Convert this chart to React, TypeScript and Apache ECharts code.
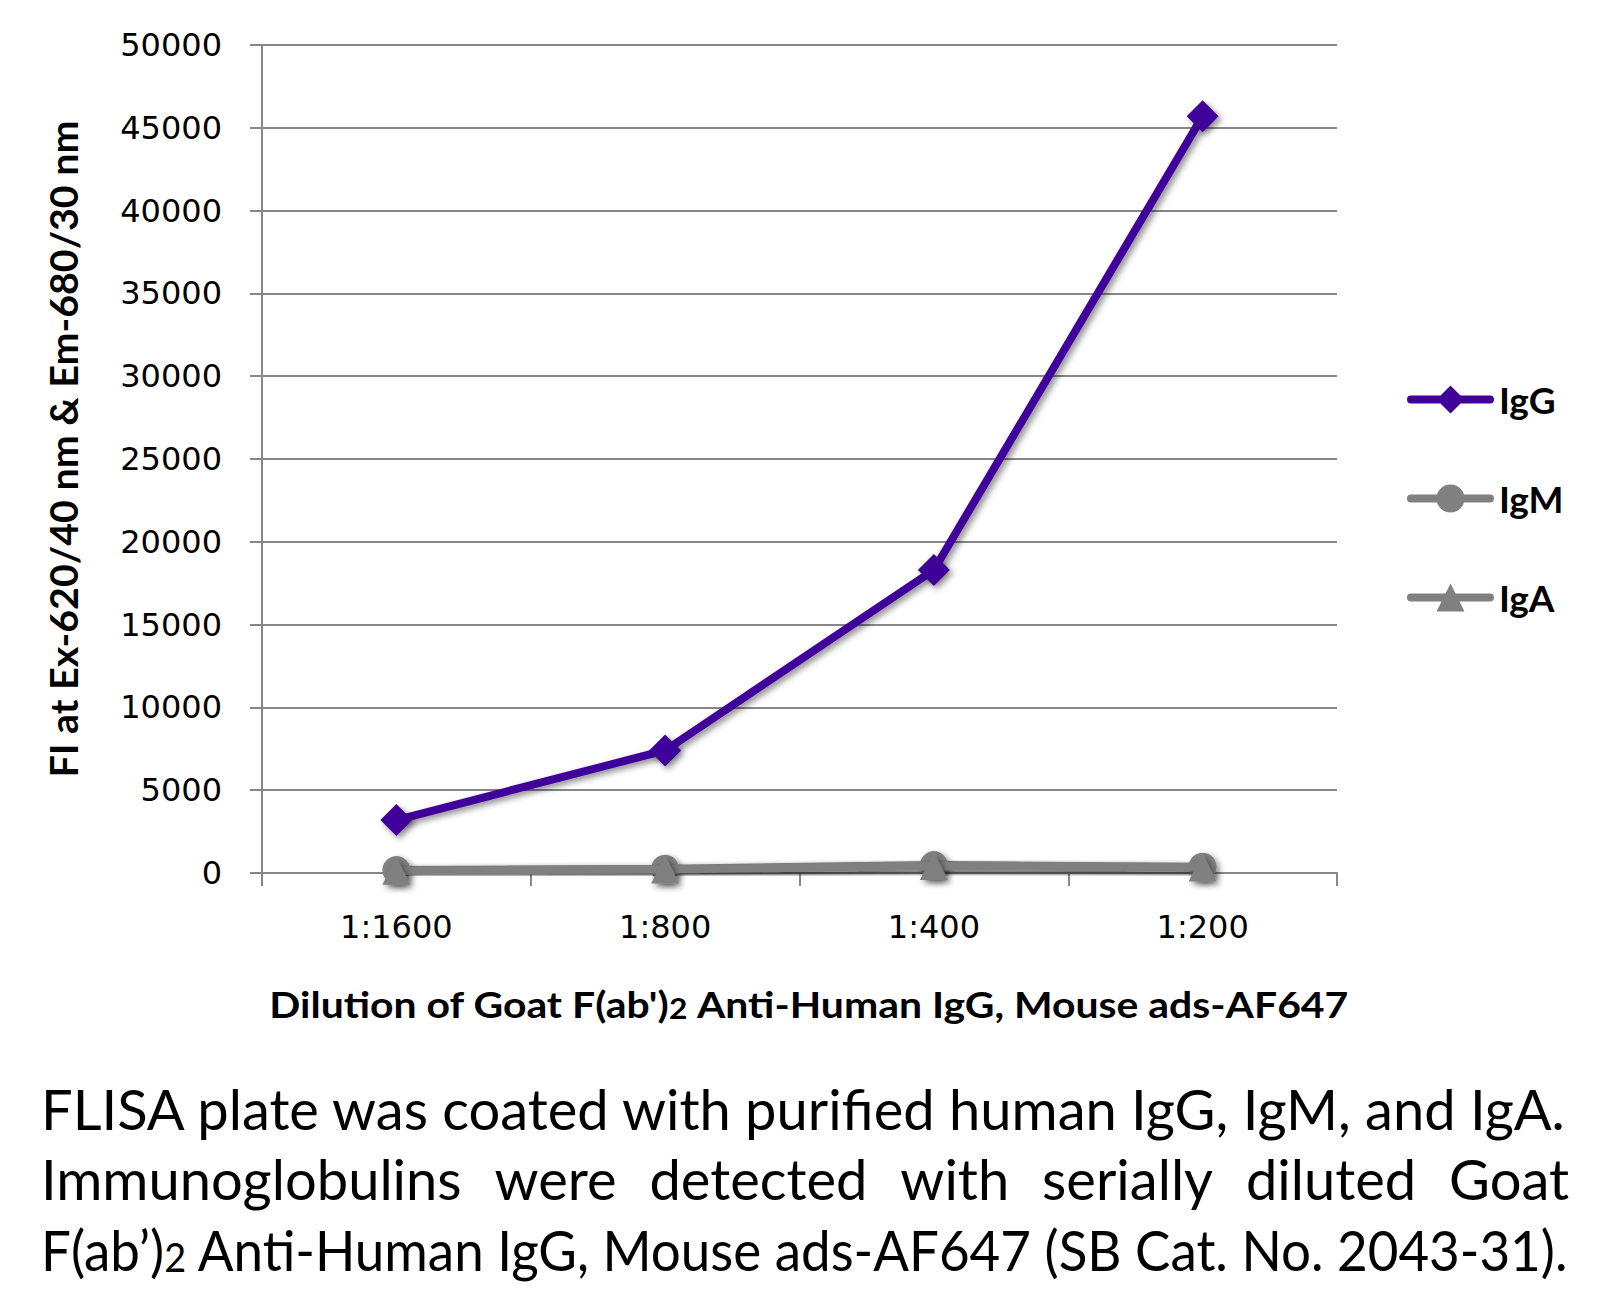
import React, { useEffect, useRef } from "react";
import * as echarts from "echarts";

const categories = ["1:1600", "1:800", "1:400", "1:200"];
const igG = [3200, 7400, 18300, 45700];
const igM = [180, 260, 480, 380];
const igA = [130, 210, 430, 330];
const yMin = 0;
const yMax = 50000;
const yInterval = 5000;
const seriesNames = ["IgG", "IgM", "IgA"];
const yAxisTitle = "FI at Ex-620/40 nm & Em-680/30 nm";
const xAxisTitleParts = ["Dilution of Goat F(ab')", "2", " Anti-Human IgG, Mouse ads-AF647"];
const captionLine1 = "FLISA plate was coated with purified human IgG, IgM, and IgA.";
const captionLine2Words = ["Immunoglobulins", "were", "detected", "with", "serially", "diluted", "Goat"];
const captionLine3Parts = ["F(ab\u2019)", "2", " Anti-Human IgG, Mouse ads-AF647 (SB Cat. No. 2043-31)."];

const PURPLE = "#41009A";
const GRAY = "#808080";
const GRID = "#878787";
const TICK_FONT = "DejaVu Sans";
const BOLD_FONT = "Lato";
const CAP_FONT = "Lato";

// legend icons: a round-capped line with the series marker in the middle
const BAR = "M4,13 L83,13 A4,4 0 0 1 83,21 L4,21 A4,4 0 0 1 4,13 Z ";
const ICON_DIAMOND = "path://" + BAR + "M43.5,3 L57.5,17 L43.5,31 L29.5,17 Z";
const ICON_CIRCLE = "path://" + BAR + "M43.5,3 A14,14 0 1 1 43.5,31 A14,14 0 1 1 43.5,3 Z";
const ICON_TRIANGLE = "path://" + BAR + "M43.5,3 L57.5,31 L29.5,31 Z";

let ctx: CanvasRenderingContext2D | null = null;
function measure(text: string, font: string): number {
  if (!ctx) ctx = document.createElement("canvas").getContext("2d");
  ctx!.font = font;
  return ctx!.measureText(text).width;
}

export default function App() {
  const ref = useRef<HTMLDivElement>(null);
  useEffect(() => {
    document.body.style.margin = "0";
    const chart = echarts.init(ref.current!, null, { renderer: "svg" });

    const yTitleSize = 38;
    const yTitleFont = `bold ${yTitleSize}px ${BOLD_FONT}`;
    const yTitleScale = 657 / measure(yAxisTitle, yTitleFont);

    const xTitleSize = 36;
    const xSubSize = 28;
    const xw =
      measure(xAxisTitleParts[0], `bold ${xTitleSize}px ${BOLD_FONT}`) +
      measure(xAxisTitleParts[1], `bold ${xSubSize}px ${BOLD_FONT}`) +
      measure(xAxisTitleParts[2], `bold ${xTitleSize}px ${BOLD_FONT}`);
    const xTitleScale = 1080 / xw;

    const capSize = 56;
    const capSub = 40;
    const capFont = `${capSize}px ${CAP_FONT}`;
    const capLeft = 41;
    const capWidth = 1528;
    const s1 = capWidth / measure(captionLine1, capFont);
    const w3 =
      measure(captionLine3Parts[0], capFont) +
      measure(captionLine3Parts[1], `${capSub}px ${CAP_FONT}`) +
      measure(captionLine3Parts[2], capFont);
    const s3 = capWidth / w3;
    const wordWidths = captionLine2Words.map((w) => measure(w, capFont) * s1);
    const totalWords = wordWidths.reduce((a, b) => a + b, 0);
    const gap = (capWidth - totalWords) / (captionLine2Words.length - 1);
    const line2Elems: any[] = [];
    let cx = capLeft;
    captionLine2Words.forEach((w, i) => {
      line2Elems.push({
        type: "text",
        x: cx,
        y: 1179,
        scaleX: s1,
        style: {
          text: w,
          font: capFont,
          fill: "#000",
          textAlign: "left",
          textVerticalAlign: "middle",
        },
      });
      cx += wordWidths[i] + gap;
    });

    const shadow = {
      shadowColor: "rgba(0,0,0,0.45)",
      shadowBlur: 6,
      shadowOffsetX: 3,
      shadowOffsetY: 3,
    };

    chart.setOption({
      animation: false,
      backgroundColor: "#fff",
      grid: { left: 262, right: 268, top: 45, bottom: 433, containLabel: false },
      legend: {
        orient: "vertical",
        left: 1402,
        top: 376,
        itemWidth: 87,
        itemHeight: 34,
        itemGap: 62,
        data: [
          { name: seriesNames[0], icon: ICON_DIAMOND },
          { name: seriesNames[1], icon: ICON_CIRCLE },
          { name: seriesNames[2], icon: ICON_TRIANGLE },
        ],
        itemStyle: { shadowBlur: 0, shadowOffsetX: 0, shadowOffsetY: 0 },
        textStyle: { fontFamily: BOLD_FONT, fontWeight: "bold", fontSize: 37, color: "#000" },
      },
      xAxis: {
        type: "category",
        data: categories,
        axisLine: { lineStyle: { color: GRID, width: 2 } },
        axisTick: { show: true, length: 13, lineStyle: { color: GRID, width: 2 } },
        axisLabel: { fontFamily: TICK_FONT, fontSize: 32, color: "#000", margin: 38 },
      },
      yAxis: {
        type: "value",
        min: yMin,
        max: yMax,
        interval: yInterval,
        axisLine: { show: true, lineStyle: { color: GRID, width: 2 } },
        axisTick: { show: true, length: 12, lineStyle: { color: GRID, width: 2 } },
        axisLabel: {
          fontFamily: TICK_FONT,
          fontSize: 32,
          color: "#000",
          margin: 40,
          formatter: (v: number) => String(v),
        },
        splitLine: { lineStyle: { color: GRID, width: 2 } },
      },
      series: [
        {
          name: seriesNames[0],
          type: "line",
          data: igG,
          symbol: "diamond",
          symbolSize: 32,
          color: PURPLE,
          lineStyle: { width: 8, color: PURPLE, ...shadow },
          itemStyle: { color: PURPLE, ...shadow },
          z: 4,
        },
        {
          name: seriesNames[1],
          type: "line",
          data: igM,
          symbol: "circle",
          symbolSize: 28,
          color: GRAY,
          lineStyle: { width: 8, color: GRAY, ...shadow },
          itemStyle: { color: GRAY, ...shadow },
          z: 2,
        },
        {
          name: seriesNames[2],
          type: "line",
          data: igA,
          symbol: "triangle",
          symbolSize: 28,
          color: GRAY,
          lineStyle: { width: 8, color: GRAY, ...shadow },
          itemStyle: { color: GRAY, ...shadow },
          z: 3,
        },
      ],
      graphic: [
        {
          type: "text",
          x: 63,
          y: 449,
          rotation: Math.PI / 2,
          scaleX: yTitleScale,
          style: {
            text: yAxisTitle,
            font: yTitleFont,
            fill: "#000",
            textAlign: "center",
            textVerticalAlign: "middle",
          },
        },
        {
          type: "text",
          x: 809,
          y: 1004,
          scaleX: xTitleScale,
          style: {
            text: `{a|${xAxisTitleParts[0]}}{s|${xAxisTitleParts[1]}}{a|${xAxisTitleParts[2]}}`,
            fill: "#000",
            textAlign: "center",
            textVerticalAlign: "middle",
            rich: {
              a: { fontFamily: BOLD_FONT, fontWeight: "bold", fontSize: xTitleSize, fill: "#000" },
              s: { fontFamily: BOLD_FONT, fontWeight: "bold", fontSize: xSubSize, fill: "#000", verticalAlign: "bottom" },
            },
          },
        },
        {
          type: "text",
          x: capLeft,
          y: 1109,
          scaleX: s1,
          style: {
            text: captionLine1,
            font: capFont,
            fill: "#000",
            textAlign: "left",
            textVerticalAlign: "middle",
          },
        },
        ...line2Elems,
        {
          type: "text",
          x: capLeft,
          y: 1249,
          scaleX: s3,
          style: {
            text: `{a|${captionLine3Parts[0]}}{s|${captionLine3Parts[1]}}{a|${captionLine3Parts[2]}}`,
            fill: "#000",
            textAlign: "left",
            textVerticalAlign: "middle",
            rich: {
              a: { fontFamily: CAP_FONT, fontSize: capSize, fill: "#000" },
              s: { fontFamily: CAP_FONT, fontSize: capSub, fill: "#000", verticalAlign: "bottom" },
            },
          },
        },
      ],
    });
    return () => chart.dispose();
  }, []);
  return <div ref={ref} style={{ width: 1605, height: 1306 }} />;
}
